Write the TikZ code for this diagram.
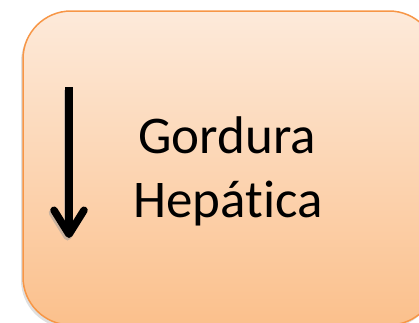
\documentclass[tikz,border=0pt]{standalone}
\usepackage{fontspec}
\setmainfont[Ligatures=NoCommon]{Carlito}
\usetikzlibrary{arrows.meta,shadows}
\definecolor{boxtop}{RGB}{253,234,218}
\definecolor{boxbot}{RGB}{251,192,140}
\definecolor{boxline}{RGB}{247,150,70}
\tikzset{
  boxstyle/.style={draw=boxline, line width=1.5bp, rounded corners=48bp,
    top color=boxtop, bottom color=boxbot,
    drop shadow={opacity=0.25, shadow xshift=-2bp, shadow yshift=-3bp}},
  downarrow/.style={line width=7.5bp,
    -{Straight Barb[length=24bp, width=30bp, round]}},
  label/.style={font=\fontsize{53bp}{64bp}\selectfont, inner sep=0pt, anchor=base}
}
\begin{document}
\begin{tikzpicture}[x=1bp,y=-1bp]
\useasboundingbox (0,0) rectangle (419,323);
\draw[boxstyle] (23,11) rectangle (437,325);
% arrow
\coordinate (arrtop) at (69,87);
\coordinate (arrtip) at (69,238);
\draw[downarrow, black!40, opacity=0.5] ([xshift=-1.5bp,yshift=-2.5bp]arrtop) -- ([xshift=-1.5bp,yshift=-2.5bp]arrtip);
\draw[downarrow] (arrtop) -- (arrtip);
% text
\node[label] (gordura) at (227,153) {Gordura};
\node[label] (hepatica) at (228,217) {Hepática};
\end{tikzpicture}
\end{document}
